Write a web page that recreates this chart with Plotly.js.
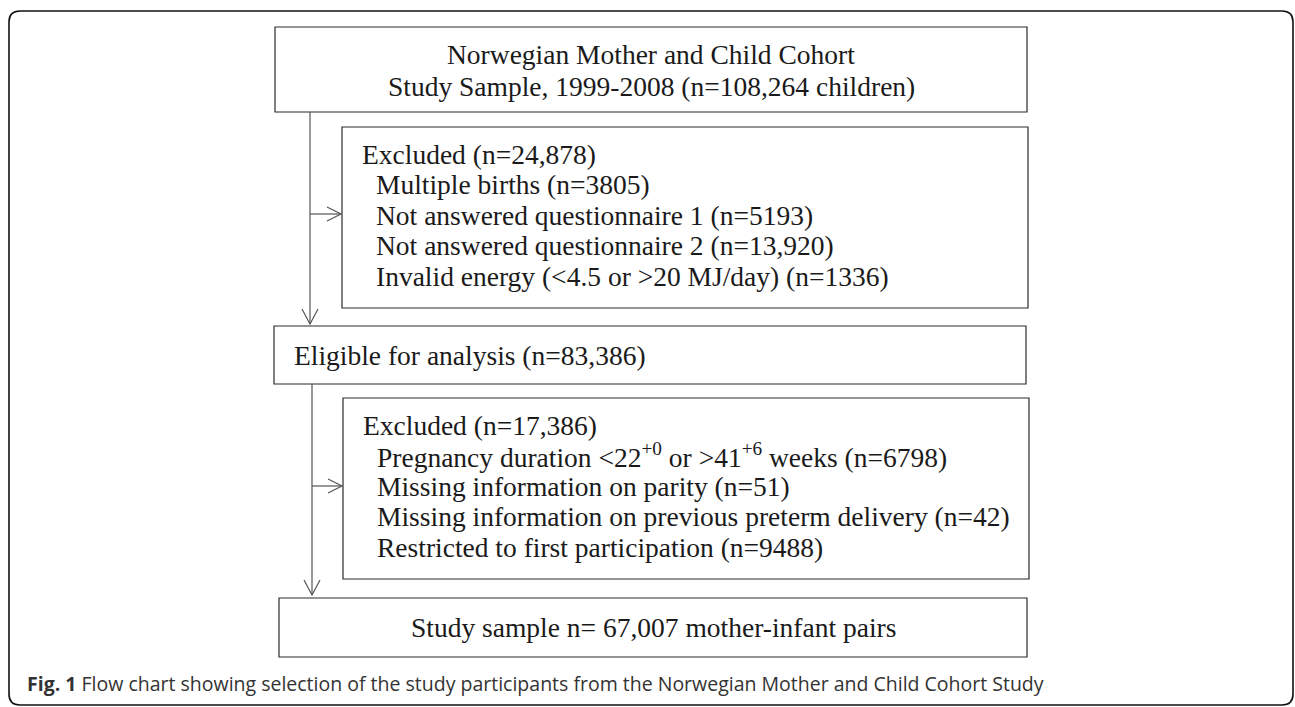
<!DOCTYPE html>
<html>
<head>
<meta charset="utf-8">
<script src="https://cdn.plot.ly/plotly-3.0.1.min.js"></script>
<style>html,body{margin:0;padding:0;background:#fff;}#chart{width:1295px;height:707px;}</style>
</head>
<body>
<div id="chart"></div>
<script>
// ---- content (text of the flow chart) ----
const topBoxLines = ["Norwegian Mother and Child Cohort", "Study Sample, 1999-2008 (n=108,264 children)"];
const excluded1Header = "Excluded (n=24,878)";
const excluded1Items = [
  "Multiple births (n=3805)",
  "Not answered questionnaire 1 (n=5193)",
  "Not answered questionnaire 2 (n=13,920)",
  "Invalid energy (&lt;4.5 or &gt;20 MJ/day) (n=1336)"
];
const eligibleText = "Eligible for analysis (n=83,386)";
const excluded2Header = "Excluded (n=17,386)";
const excluded2Items = [
  "Pregnancy duration &lt;22<sup>+0</sup> or &gt;41<sup>+6</sup> weeks (n=6798)",
  "Missing information on parity (n=51)",
  "Missing information on previous preterm delivery (n=42)",
  "Restricted to first participation (n=9488)"
];
const finalText = "Study sample n= 67,007 mother-infant pairs";
const captionBold = "Fig. 1";
const captionText = " Flow chart showing selection of the study participants from the Norwegian Mother and Child Cohort Study";

// ---- layout geometry ----
const W = 1295, H = 707;
const serif = "Liberation Serif, Times New Roman, serif";
const fs = 27.5;
const txtColor = "#1a1a1a";
const boxColor = "#2b2b2b";
const arrowColor = "#555555";

const boxes = {
  top:   {x0: 275, x1: 1027, y0: 27,  y1: 112},
  exc1:  {x0: 342, x1: 1028, y0: 127, y1: 308},
  elig:  {x0: 274, x1: 1026, y0: 326, y1: 384},
  exc2:  {x0: 343, x1: 1029, y0: 398, y1: 579},
  final: {x0: 279, x1: 1027, y0: 598, y1: 657}
};

const shapes = [];
const annotations = [];

// outer rounded frame
(function(){
  const x0 = 9, y0 = 11, x1 = 1293, y1 = 705, r = 11;
  const p = `M ${x0+r} ${y0} L ${x1-r} ${y0} Q ${x1} ${y0} ${x1} ${y0+r} L ${x1} ${y1-r} Q ${x1} ${y1} ${x1-r} ${y1} L ${x0+r} ${y1} Q ${x0} ${y1} ${x0} ${y1-r} L ${x0} ${y0+r} Q ${x0} ${y0} ${x0+r} ${y0} Z`;
  shapes.push({type: "path", path: p, xref: "x", yref: "y", line: {color: "#111", width: 1.6}});
})();

Object.values(boxes).forEach(b => {
  shapes.push({type: "rect", xref: "x", yref: "y", x0: b.x0, x1: b.x1, y0: b.y0, y1: b.y1,
    line: {color: boxColor, width: 1.2}, fillcolor: "rgba(0,0,0,0)"});
});

function line(x0, y0, x1, y1) {
  shapes.push({type: "line", xref: "x", yref: "y", x0, y0, x1, y1, line: {color: arrowColor, width: 1.2}});
}
function arrowDown(x, yTip) {
  shapes.push({type: "path", xref: "x", yref: "y",
    path: `M ${x-8} ${yTip-15} L ${x} ${yTip} L ${x+8} ${yTip-15}`, line: {color: arrowColor, width: 1.2}});
}
function arrowRight(xTip, y) {
  shapes.push({type: "path", xref: "x", yref: "y",
    path: `M ${xTip-14} ${y-7} L ${xTip} ${y} L ${xTip-14} ${y+7}`, line: {color: arrowColor, width: 1.2}});
}

// connectors
line(310, boxes.top.y1, 310, 324); arrowDown(310, 324);
line(310, 214, 341, 214); arrowRight(341, 214);
line(312, boxes.elig.y1, 312, 595); arrowDown(312, 595);
line(312, 486, 342, 486); arrowRight(342, 486);

function text(t, x, y, xanchor, opts) {
  annotations.push(Object.assign({
    text: t, x, y, xref: "x", yref: "y", xanchor, yanchor: "middle", showarrow: false,
    font: {family: serif, size: fs, color: txtColor}
  }, opts || {}));
}

// top box
const topMid = (boxes.top.x0 + boxes.top.x1) / 2;
topBoxLines.forEach((t, i) => text(t, topMid, 54 + i * 32, "center"));

// excluded boxes
const lineGap = 30.5;
function excludedBox(b, header, items) {
  const yFirst = b.y0 + 27;
  text(header, b.x0 + 18, yFirst, "left");
  items.forEach((t, i) => text(t, b.x0 + 32, yFirst + (i + 1) * lineGap, "left"));
}
excludedBox(boxes.exc1, excluded1Header, excluded1Items);
excludedBox(boxes.exc2, excluded2Header, excluded2Items);

// eligible box
text(eligibleText, boxes.elig.x0 + 18, (boxes.elig.y0 + boxes.elig.y1) / 2, "left");

// final box
text(finalText, (boxes.final.x0 + boxes.final.x1) / 2, (boxes.final.y0 + boxes.final.y1) / 2, "center");

// caption
annotations.push({
  text: `<b>${captionBold}</b>${captionText}`, x: 25, y: 683, xref: "x", yref: "y",
  xanchor: "left", yanchor: "middle", showarrow: false,
  font: {family: "Open Sans, Noto Sans, sans-serif", size: 19.5, color: "#333333"}
});

const layout = {
  width: W, height: H,
  margin: {l: 0, r: 0, t: 0, b: 0},
  paper_bgcolor: "#fff", plot_bgcolor: "#fff",
  xaxis: {range: [0, W], visible: false, fixedrange: true},
  yaxis: {range: [H, 0], visible: false, fixedrange: true},
  showlegend: false,
  shapes, annotations
};

Plotly.newPlot("chart", [{x: [], y: [], type: "scatter", mode: "markers", hoverinfo: "skip"}], layout, {displayModeBar: false, staticPlot: true});
</script>
</body>
</html>
